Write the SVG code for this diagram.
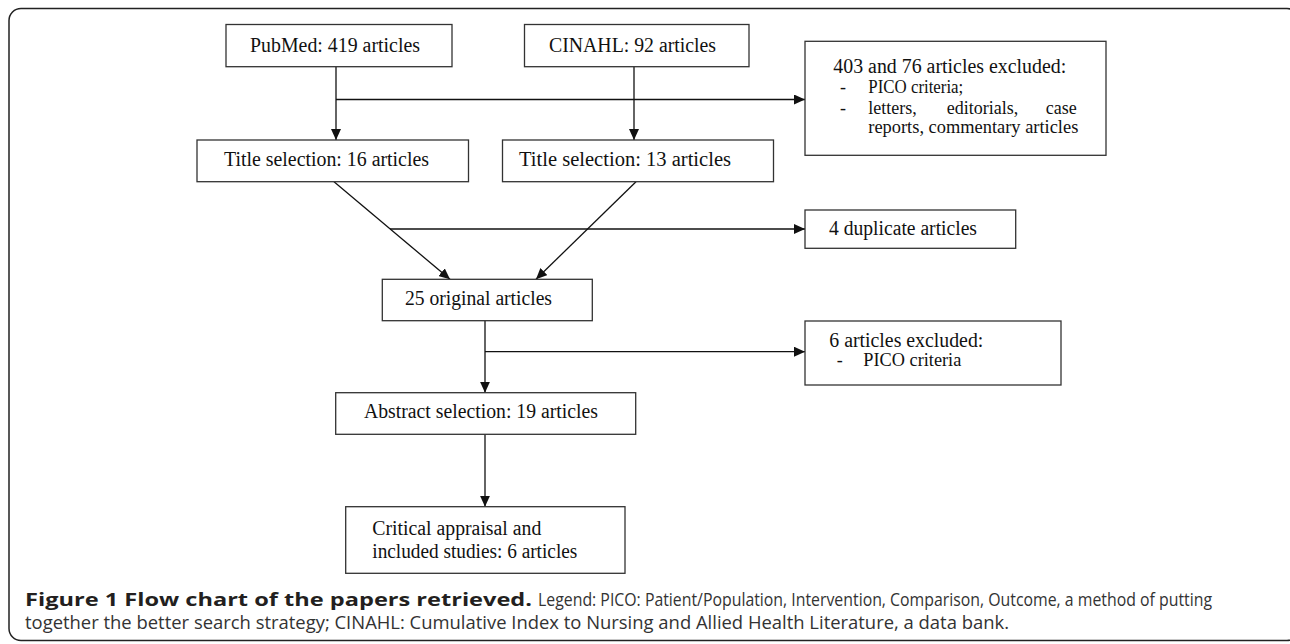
<svg xmlns="http://www.w3.org/2000/svg" width="1290" height="644" viewBox="0 0 1290 644">
<defs>
<marker id="ah" markerWidth="12" markerHeight="10" refX="11" refY="5" orient="auto" markerUnits="userSpaceOnUse">
<path d="M0,0 L11,5 L0,10 Z" fill="#111"/>
</marker>
<style>
.box{fill:#fff;stroke:#333;stroke-width:1.3}
.t{font-family:"Liberation Serif","Times New Roman",serif;font-size:20px;fill:#111}
.s{font-family:"Liberation Serif","Times New Roman",serif;font-size:18px;fill:#111}
.ln{fill:none;stroke:#111;stroke-width:1.3}
.cb{font-family:"Open Sans","Noto Sans",sans-serif;font-size:18.5px;font-weight:bold;fill:#231f20}
.cr{font-family:"Open Sans","Noto Sans",sans-serif;font-size:17.5px;fill:#333}
</style>
</defs>
<rect x="9" y="8.5" width="1290" height="632" rx="12" fill="#fff" stroke="#222" stroke-width="1.5"/>
<g id="connectors">
<line class="ln" x1="336" y1="66.7" x2="336" y2="140" marker-end="url(#ah)"/>
<line class="ln" x1="634" y1="66.7" x2="634" y2="140" marker-end="url(#ah)"/>
<line class="ln" x1="336" y1="99.5" x2="805" y2="99.5" marker-end="url(#ah)"/>
<line class="ln" x1="334" y1="181.7" x2="450" y2="279.3" marker-end="url(#ah)"/>
<line class="ln" x1="636" y1="181.7" x2="536" y2="279.3" marker-end="url(#ah)"/>
<line class="ln" x1="390" y1="229" x2="805" y2="229" marker-end="url(#ah)"/>
<line class="ln" x1="485" y1="320.7" x2="485" y2="392.7" marker-end="url(#ah)"/>
<line class="ln" x1="485" y1="351.7" x2="805" y2="351.7" marker-end="url(#ah)"/>
<line class="ln" x1="485" y1="434.3" x2="485" y2="506.7" marker-end="url(#ah)"/>
</g>
<g id="pubmed">
<rect class="box" x="226" y="24.5" width="226" height="42.2"/>
<text class="t" x="250" y="52" textLength="170" lengthAdjust="spacingAndGlyphs">PubMed: 419 articles</text>
</g>
<g id="cinahl">
<rect class="box" x="524.5" y="24.5" width="224.5" height="42.2"/>
<text class="t" x="549" y="52" textLength="167" lengthAdjust="spacingAndGlyphs">CINAHL: 92 articles</text>
</g>
<g id="excluded1">
<rect class="box" x="805" y="41.3" width="301" height="114"/>
<text class="t" x="833.3" y="73" textLength="233" lengthAdjust="spacingAndGlyphs">403 and 76 articles excluded:</text>
<text class="s" x="840" y="93">-</text>
<text class="s" x="868.3" y="93" textLength="95" lengthAdjust="spacingAndGlyphs">PICO criteria;</text>
<text class="s" x="840" y="114">-</text>
<text class="s" y="114"><tspan x="868.3">letters,</tspan><tspan x="946.7">editorials,</tspan><tspan x="1045.7">case</tspan></text>
<text class="s" x="868.3" y="133" textLength="210" lengthAdjust="spacingAndGlyphs">reports, commentary articles</text>
</g>
<g id="title16">
<rect class="box" x="197" y="140" width="271.5" height="41.7"/>
<text class="t" x="224" y="166" textLength="205" lengthAdjust="spacingAndGlyphs">Title selection: 16 articles</text>
</g>
<g id="title13">
<rect class="box" x="502.5" y="140" width="271" height="41.7"/>
<text class="t" x="519" y="166" textLength="212" lengthAdjust="spacingAndGlyphs">Title selection: 13 articles</text>
</g>
<g id="duplicates">
<rect class="box" x="805" y="210" width="210.7" height="38.3"/>
<text class="t" x="829" y="235" textLength="148" lengthAdjust="spacingAndGlyphs">4 duplicate articles</text>
</g>
<g id="original">
<rect class="box" x="382.3" y="279.3" width="210" height="41.4"/>
<text class="t" x="405" y="305" textLength="147" lengthAdjust="spacingAndGlyphs">25 original articles</text>
</g>
<g id="excluded2">
<rect class="box" x="805" y="321" width="256" height="64"/>
<text class="t" x="829.3" y="347.3" textLength="154" lengthAdjust="spacingAndGlyphs">6 articles excluded:</text>
<text class="s" x="836.7" y="366">-</text>
<text class="s" x="863.3" y="366" textLength="98" lengthAdjust="spacingAndGlyphs">PICO criteria</text>
</g>
<g id="abstract">
<rect class="box" x="335.7" y="392.7" width="300" height="41.6"/>
<text class="t" x="364" y="418.3" textLength="234" lengthAdjust="spacingAndGlyphs">Abstract selection: 19 articles</text>
</g>
<g id="critical">
<rect class="box" x="345.7" y="506.7" width="279.3" height="66.6"/>
<text class="t" x="372.3" y="535" textLength="169" lengthAdjust="spacingAndGlyphs">Critical appraisal and</text>
<text class="t" x="372.3" y="558" textLength="205" lengthAdjust="spacingAndGlyphs">included studies: 6 articles</text>
</g>
<g id="caption">
<text class="cb" x="25" y="606" textLength="507" lengthAdjust="spacingAndGlyphs">Figure 1 Flow chart of the papers retrieved.</text>
<text class="cr" x="538" y="606" textLength="674" lengthAdjust="spacingAndGlyphs">Legend: PICO: Patient/Population, Intervention, Comparison, Outcome, a method of putting</text>
<text class="cr" x="25" y="629" textLength="984" lengthAdjust="spacingAndGlyphs">together the better search strategy; CINAHL: Cumulative Index to Nursing and Allied Health Literature, a data bank.</text>
</g>
</svg>
